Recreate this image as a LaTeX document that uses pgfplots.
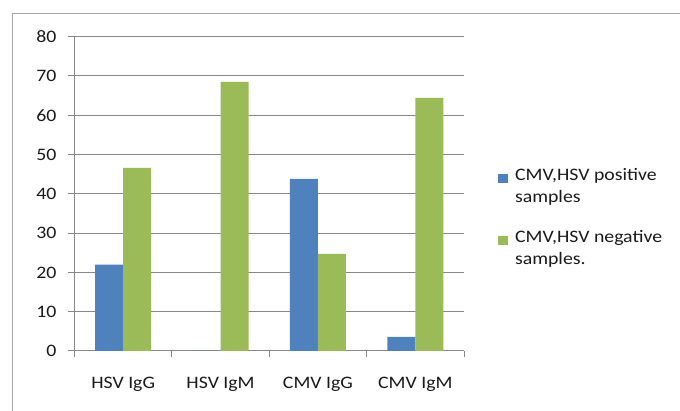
\documentclass[border=0pt]{standalone}
\usepackage{pgfplots}
\pgfplotsset{compat=1.18}
\usepackage{fontspec}
\setmainfont[FakeStretch=1.13]{Carlito}
\definecolor{barblue}{HTML}{4F81BD}
\definecolor{bargreen}{HTML}{9BBB59}
\definecolor{gridgray}{HTML}{878787}
\definecolor{framegray}{HTML}{A6A6A6}
\begin{document}
\fontsize{17.5bp}{22bp}\selectfont
\begin{tikzpicture}
\useasboundingbox (0,0) rectangle (680bp,411bp);
\draw[framegray, line width=1.2bp, overlay] (12.7bp,-10bp) -- (12.7bp,397.7bp) -- (700bp,397.7bp);
\begin{axis}[
  at={(74.5bp,60bp)}, anchor=south west,
  scale only axis, width=389.5bp, height=314.3bp,
  ybar=0pt, bar width=0.287,
  xmin=-0.5, xmax=3.5, ymin=0, ymax=80,
  xtick={0,1,2,3},
  xticklabels={HSV IgG, HSV IgM, CMV IgG, CMV IgM},
  minor xtick={-0.5,0.5,1.5,2.5,3.5},
  ytick={0,10,...,80},
  axis x line*=bottom, axis y line*=left,
  tick align=outside,
  major tick length=7bp, minor tick length=6bp,
  major x tick style={draw=none},
  tick style={gridgray, line width=1bp},
  axis line style={gridgray, line width=1bp, -},
  ymajorgrids, major grid style={gridgray, line width=1bp},
  /pgf/number format/assume math mode=true,
  tick label style={font=\fontsize{17.5bp}{22bp}\selectfont, text=black!90},
  yticklabel style={xshift=-5bp},
  xticklabel style={yshift=-13bp},
  legend style={at={(axis description cs:1.087,0.587)}, anchor=north west,
    draw=none, fill=none, inner sep=0pt, row sep=21bp,
    font=\fontsize{17.5bp}{22bp}\selectfont,
    nodes={align=left, text=black!90, inner xsep=7bp}},
  legend cell align=left,
  legend image code/.code={\fill[#1, draw=none] (0bp,4bp) rectangle (10bp,13bp);},
]
\addplot[fill=barblue, draw=none] coordinates {(0,22.0) (1,0) (2,43.8) (3,3.6)};
\addplot[fill=bargreen, draw=none] coordinates {(0,46.6) (1,68.5) (2,24.7) (3,64.4)};
\legend{{CMV,HSV positive\\samples},{CMV,HSV negative\\samples.}}
\end{axis}
\end{tikzpicture}
\end{document}
